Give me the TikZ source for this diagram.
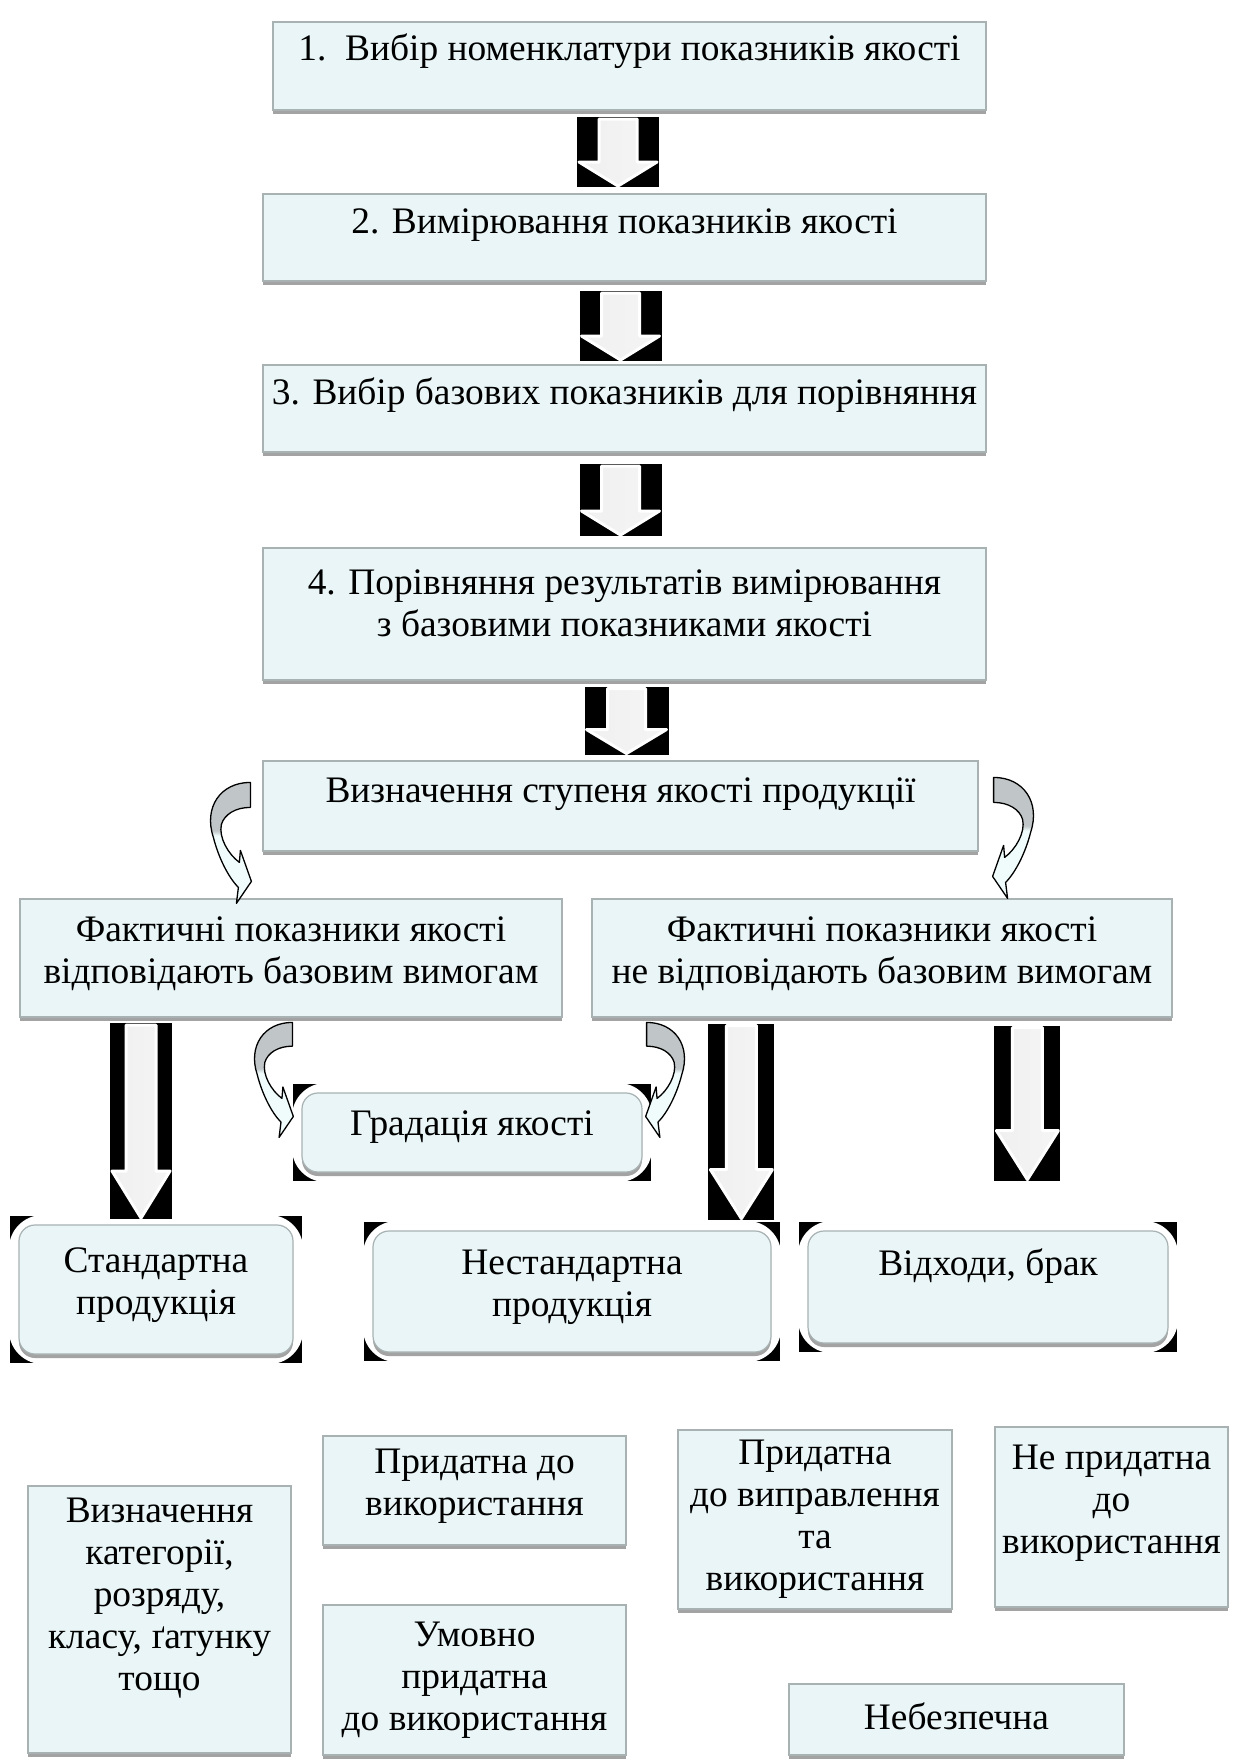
\documentclass[tikz,border=0pt]{standalone}
\usepackage{fontspec}
\setmainfont{Liberation Serif}
\usetikzlibrary{calc,shadows}

\definecolor{boxfill}{RGB}{233,245,246}
\definecolor{boxedge}{RGB}{168,178,179}
\definecolor{ribbonhi}{RGB}{192,198,199}
\definecolor{ribbonlo}{RGB}{240,252,252}

\pgfdeclarelayer{background}
\pgfsetlayers{background,main}

\pgfdeclareverticalshading{ribbonshade}{100bp}{color(0bp)=(ribbonlo); color(53bp)=(ribbonlo); color(55bp)=(ribbonhi); color(100bp)=(ribbonhi)}

\tikzset{
    box/.style = {draw = boxedge, line width = 1.2pt, fill = boxfill, inner sep = 0pt,
        drop shadow = {shadow xshift = 0pt, shadow yshift = -4pt, fill = black!60, opacity = 0.6}},
    rbox/.style = {box, rounded corners = 16pt},
    txt/.style = {font = \fontsize{37.4}{42}\selectfont, align = center, inner sep = 0pt},
    backdrop/.style = {fill = black},
    glow/.style = {fill = white, rounded corners = 34pt},
    arrowbody/.style = {draw = white, line width = 3pt, line join = round,
        left color = black!6, middle color = black!22, right color = black!4},
    ribbon/.style = {draw = black, line width = 1.3pt, line join = round, shading = ribbonshade}
}

\newcommand{\blockdown}[5]{%
    \begin{scope}[shift = {(#1)}]
        \begin{pgfonlayer}{background}
            \fill[backdrop] (-#3, #2) rectangle (#3, -#2);
        \end{pgfonlayer}
        \filldraw[arrowbody]
            (-#4, #2 - 2) -- (#4, #2 - 2) -- (#4, -#2 + #5) -- (#3 - 2, -#2 + #5)
            -- (0, -#2 + 1) -- (-#3 + 2, -#2 + #5) -- (-#4, -#2 + #5) -- cycle;
    \end{scope}}

\newcommand{\ribbonarrow}[1]{%
    \shadedraw[ribbon, #1]
        (0, 0) .. controls (-30, 0) and (-47, -25) .. (-37, -55)
        .. controls (-32, -75) and (-22, -95) .. (-12, -105)
        -- (-14, -121) -- (1, -99) -- (-10, -68) -- (-11, -80)
        .. controls (-22, -72) and (-32, -55) .. (-29, -42)
        .. controls (-26, -32) and (-15, -25) .. (0, -25)
        -- cycle;}

\begin{document}
\begin{tikzpicture}[x = 1pt, y = 1pt]
    \useasboundingbox (0, 0) rectangle (1234, -1762);

    \node (nom) [box, minimum width = 713, minimum height = 88] at (629.5, -66) {};
    \node (nomtext) [txt] at ([yshift = 15]nom.center) {1.\ \ Вибір номенклатури показників якості};
    \node (meas) [box, minimum width = 723, minimum height = 87] at (624.5, -237.5) {};
    \node (meastext) [txt] at ([yshift = 12]meas.center) {2. Вимірювання показників якості};
    \node (base) [box, minimum width = 723, minimum height = 87] at (624.5, -408.5) {};
    \node (basetext) [txt] at ([yshift = 13]base.center) {3. Вибір базових показників для порівняння};
    \node (cmp) [box, minimum width = 723, minimum height = 132] at (624.5, -614) {};
    \node (cmptext) [txt] at ([yshift = 11]cmp.center) {4. Порівняння результатів вимірювання\\з базовими показниками якості};
    \node (degree) [box, minimum width = 715, minimum height = 90] at (620.5, -806) {};
    \node (degreetext) [txt] at ([yshift = 12]degree.center) {Визначення ступеня якості продукції};

    \node (okreq) [box, minimum width = 542, minimum height = 118] at (291, -958) {};
    \node (okreqtext) [txt] at ([yshift = 4]okreq.center) {Фактичні показники якості\\відповідають базовим вимогам};
    \node (notreq) [box, minimum width = 580, minimum height = 118] at (882, -958) {};
    \node (notreqtext) [txt] at ([yshift = 4]notreq.center) {Фактичні показники якості\\не відповідають базовим вимогам};

    \node (grade) [rbox, minimum width = 340, minimum height = 79] at (472, -1132.5) {};
    \node (gradetext) [txt] at ([yshift = 5]grade.center) {Градація якості};
    \node (std) [rbox, minimum width = 274, minimum height = 129] at (156, -1289.5) {};
    \node (stdtext) [txt] at ([yshift = 4]std.center) {Стандартна\\продукція};
    \node (nonstd) [rbox, minimum width = 398, minimum height = 121] at (572, -1291.5) {};
    \node (nonstdtext) [txt] at ([yshift = 4]nonstd.center) {Нестандартна\\продукція};
    \node (waste) [rbox, minimum width = 360, minimum height = 112] at (988, -1287) {};
    \node (wastetext) [txt] at ([yshift = 21]waste.center) {Відходи, брак};

    \node (cat) [box, minimum width = 263, minimum height = 267] at (159.5, -1619.5) {};
    \node (cattext) [txt] at ([yshift = 21]cat.center) {Визначення\\категорії,\\розряду,\\класу, ґатунку\\тощо};
    \node (usable) [box, minimum width = 303, minimum height = 109] at (474.5, -1490.5) {};
    \node (usabletext) [txt] at ([yshift = 4]usable.center) {Придатна до\\використання};
    \node (cond) [box, minimum width = 303, minimum height = 150] at (474.5, -1680) {};
    \node (condtext) [txt] at (cond.center) {Умовно\\придатна\\до використання};
    \node (fixable) [box, minimum width = 274, minimum height = 179] at (815, -1519.5) {};
    \node (fixabletext) [txt] at (fixable.center) {Придатна\\до виправлення\\та\\використання};
    \node (unusable) [box, minimum width = 233, minimum height = 180] at (1111.5, -1517) {};
    \node (unusabletext) [txt] at ([yshift = 14]unusable.center) {Не придатна\\до\\використання};
    \node (danger) [box, minimum width = 335, minimum height = 71] at (956.5, -1719.5) {};
    \node (dangertext) [txt] at ([yshift = 3]danger.center) {Небезпечна};

    \foreach \b in {grade, std, nonstd, waste} {
        \begin{pgfonlayer}{background}
            \fill[backdrop] ([shift = {(-8, -8)}]\b.south west) rectangle ([shift = {(8, 8)}]\b.north east);
            \fill[glow] ([shift = {(-9.5, -9.5)}]\b.south west) rectangle ([shift = {(9.5, 9.5)}]\b.north east);
        \end{pgfonlayer}
    }

    \coordinate (a1) at ($(nom.south)!0.5!(meas.north) + (-9, 0)$);
    \coordinate (a2) at ($(meas.south)!0.5!(base.north) + (-4, -3)$);
    \coordinate (a3) at ($(base.south)!0.5!(cmp.north) + (-4, 0)$);
    \coordinate (a4) at ($(cmp.south)!0.5!(degree.north) + (4, 0)$);
    \blockdown{a1}{35}{41}{19}{25}
    \blockdown{a2}{35}{41}{19}{25}
    \blockdown{a3}{36}{41}{19}{25}
    \blockdown{a4}{34}{42}{19}{25}

    \coordinate (d1) at ($(okreq.south -| std.north)!0.5!(std.north) + (-15, 0)$);
    \coordinate (d2) at ($(notreq.south west) + (150, -104)$);
    \coordinate (d3) at ($(notreq.south west) + (436, -85.5)$);
    \blockdown{d1}{98}{31}{15}{48}
    \blockdown{d2}{98}{33}{15}{50}
    \blockdown{d3}{77.5}{33}{15}{50}

    \ribbonarrow{shift = {(degree.north west)}, shift = {(-12, -22)}}
    \ribbonarrow{shift = {(degree.north east)}, shift = {(15, -17)}, xscale = -1}
    \ribbonarrow{shift = {(grade.north west)}, shift = {(-9, 70)}, scale = 0.95}
    \ribbonarrow{shift = {(grade.north east)}, shift = {(4, 70)}, xscale = -0.95, yscale = 0.95}
\end{tikzpicture}
\end{document}
